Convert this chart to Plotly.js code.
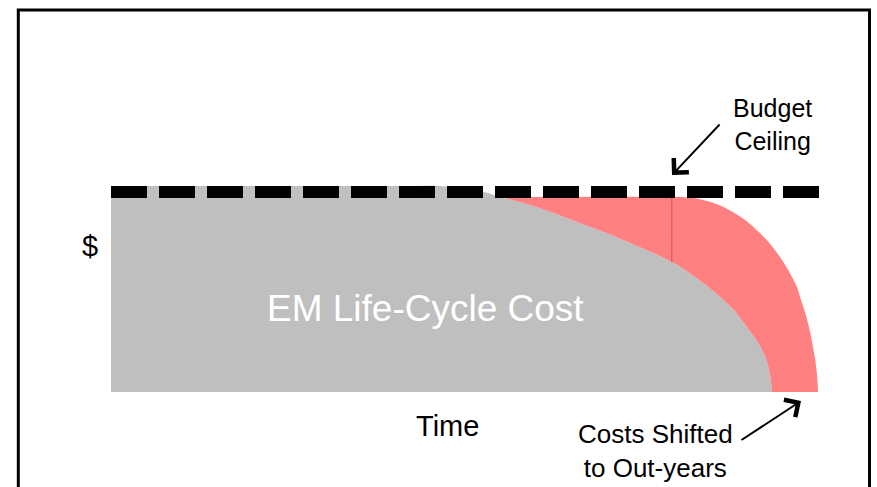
<!DOCTYPE html>
<html>
<head>
<meta charset="utf-8">
<script src="https://cdn.plot.ly/plotly-3.0.1.min.js"></script>
<style>html,body{margin:0;padding:0;background:#fff;} #chart{width:877px;height:487px;}</style>
</head>
<body>
<div id="chart"></div>
<script>
// ---- Data (time units 0..100, cost units: budget ceiling = 100) ----
const budgetCeiling = 100;
const ceilingTime = [0, 100];

// EM life-cycle cost (gray) upper boundary
const lccTime = [0, 40, 46.4, 52.6, 54.9, 59.1, 62.6, 66.1, 69.7, 73.2, 76.3, 79.1, 80.96, 82.65, 84.49, 86.32, 87.73, 89.14, 90.41, 91.54, 92.24, 92.67, 93.02, 93.23];
const lccCost = [103, 103, 103, 100, 97.5, 93.5, 89.25, 84.5, 79.75, 74.5, 69.75, 65, 61, 56.75, 51.75, 46.25, 41.5, 35, 29, 23, 18, 13, 7, 0];

// Costs shifted to out-years (pink) outer boundary
const shiftTime = [54.9, 79.83, 81.66, 83.07, 84.49, 85.90, 87.31, 88.72, 90.13, 91.54, 92.95, 94.36, 95.35, 96.05, 96.76, 97.32, 97.88, 98.31, 98.73, 99.01, 99.29, 99.51, 99.65, 99.72];
const shiftCost = [97.5, 97.5, 97.2, 96.4, 95.1, 93.25, 90.8, 87.75, 84.05, 79.5, 74.1, 67.5, 62, 57.5, 52.5, 46, 40, 34.5, 28, 22.5, 17, 11, 5.5, 0];

// thin divider in the shifted area
const dividerTime = [79.1, 79.1];
const dividerCost = [97.5, 65];

// ---- Pixel mapping helpers (layout only) ----
const W = 877, H = 487;
const X0PX = 111, X100PX = 820, Y0PX = 392, Y100PX = 192;
const xs = (X100PX - X0PX) / 100, ys = (Y0PX - Y100PX) / 100;
const xRange = [-X0PX / xs, (W - X0PX) / xs];
const yRange = [(Y0PX - H) / ys, Y0PX / ys];
const px2x = p => (p - X0PX) / xs;
const px2y = p => (Y0PX - p) / ys;

// gray-curve segment bordering the shifted area
const innerT = lccTime.slice(4);
const innerC = lccCost.slice(4);

const FONT = 'Liberation Sans, Arial, sans-serif';

const traces = [
  {x: lccTime, y: lccCost, type: 'scatter', mode: 'lines', fill: 'tozeroy',
   fillcolor: '#bfbfbf', line: {width: 0, color: '#bfbfbf', shape: 'spline', smoothing: 0.8}, hoverinfo: 'skip'},
  {x: innerT, y: innerC, type: 'scatter', mode: 'lines',
   line: {width: 0, color: 'rgba(0,0,0,0)', shape: 'spline', smoothing: 0.8}, hoverinfo: 'skip'},
  {x: shiftTime, y: shiftCost, type: 'scatter', mode: 'lines', fill: 'tonexty',
   fillcolor: '#ff8080', line: {width: 0, color: '#ff8080', shape: 'spline', smoothing: 0.8}, hoverinfo: 'skip'},
  {x: dividerTime, y: dividerCost, type: 'scatter', mode: 'lines',
   line: {width: 1, color: '#e8464c'}, hoverinfo: 'skip'},
  {x: ceilingTime, y: [budgetCeiling, budgetCeiling], type: 'scatter', mode: 'lines',
   line: {width: 12, color: '#000000', dash: '36px,12px'}, hoverinfo: 'skip'}
];

const layout = {
  width: W, height: H,
  margin: {l: 0, r: 0, t: 0, b: 0},
  paper_bgcolor: '#ffffff', plot_bgcolor: '#ffffff',
  showlegend: false,
  xaxis: {range: xRange, visible: false, fixedrange: true},
  yaxis: {range: yRange, visible: false, fixedrange: true},
  shapes: [
    {type: 'rect', xref: 'paper', yref: 'paper',
     x0: 18.3 / W, x1: 869.5 / W, y0: -0.05, y1: 1 - 10 / H,
     line: {color: '#000000', width: 3}, fillcolor: 'rgba(0,0,0,0)'}
  ],
  annotations: [
    {x: px2x(425), y: px2y(308), xref: 'x', yref: 'y', text: 'EM Life-Cycle Cost',
     showarrow: false, font: {family: FONT, size: 37, color: '#ffffff'}},
    {x: px2x(447), y: px2y(426), xref: 'x', yref: 'y', text: 'Time',
     showarrow: false, font: {family: FONT, size: 29, color: '#000000'}},
    {x: px2x(90), y: px2y(246), xref: 'x', yref: 'y', text: '$',
     showarrow: false, font: {family: FONT, size: 29, color: '#000000'}},
    {x: px2x(772), y: px2y(124), xref: 'x', yref: 'y', text: 'Budget<br>Ceiling',
     showarrow: false, align: 'center', font: {family: FONT, size: 25, color: '#000000'}},
    {x: px2x(655), y: px2y(451), xref: 'x', yref: 'y', text: 'Costs Shifted<br>to Out-years',
     showarrow: false, align: 'center', font: {family: FONT, size: 26, color: '#000000'}},
    {x: px2x(672), y: px2y(175), xref: 'x', yref: 'y', axref: 'x', ayref: 'y',
     ax: px2x(721), ay: px2y(123), text: '', showarrow: true, arrowhead: 4,
     arrowsize: 2, arrowwidth: 2, arrowcolor: '#000000', standoff: 0, startstandoff: 0},
    {x: px2x(801), y: px2y(401), xref: 'x', yref: 'y', axref: 'x', ayref: 'y',
     ax: px2x(740), ay: px2y(441), text: '', showarrow: true, arrowhead: 4,
     arrowsize: 2, arrowwidth: 2, arrowcolor: '#000000', standoff: 0, startstandoff: 0}
  ]
};

Plotly.newPlot('chart', traces, layout, {displayModeBar: false, staticPlot: true});
</script>
</body>
</html>
